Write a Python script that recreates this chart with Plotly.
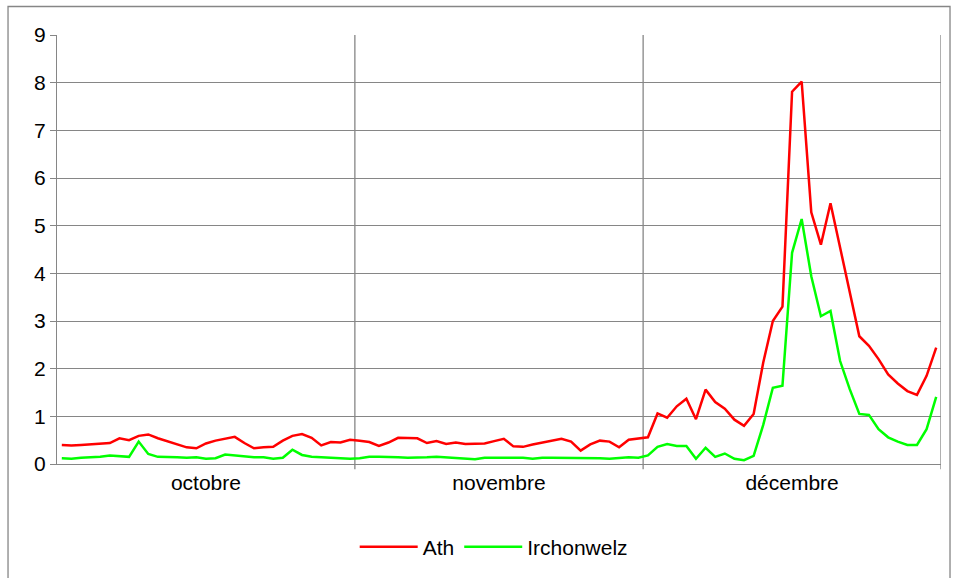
import plotly.graph_objects as go

months = ["octobre", "novembre", "décembre"]
month_days = [31, 30, 31]

ath_oct = [0.40, 0.39, 0.40, 0.41, 0.42, 0.44, 0.54, 0.50, 0.59, 0.62, 0.54, 0.48, 0.42, 0.35, 0.33,
           0.43, 0.49, 0.53, 0.57, 0.44, 0.33, 0.35, 0.36, 0.49, 0.59, 0.63, 0.55, 0.39, 0.46, 0.45, 0.51]
ath_nov = [0.49, 0.46, 0.38, 0.45, 0.55, 0.54, 0.54, 0.44, 0.48, 0.42, 0.45, 0.42, 0.43, 0.43, 0.48,
           0.53, 0.37, 0.36, 0.41, 0.45, 0.49, 0.53, 0.47, 0.28, 0.41, 0.49, 0.47, 0.35, 0.51, 0.54]
ath_dec = [0.56, 1.06, 0.97, 1.21, 1.37, 0.94, 1.56, 1.30, 1.16, 0.93, 0.80, 1.05, 2.13, 3.00, 3.30,
           7.81, 8.02, 5.28, 4.60, 5.47, 4.53, 3.59, 2.68, 2.48, 2.20, 1.88, 1.69, 1.53, 1.45, 1.85, 2.44]

irc_oct = [0.12, 0.11, 0.13, 0.14, 0.15, 0.18, 0.17, 0.15, 0.47, 0.21, 0.15, 0.15, 0.14, 0.13, 0.14,
           0.11, 0.12, 0.20, 0.18, 0.15, 0.14, 0.14, 0.11, 0.13, 0.30, 0.19, 0.15, 0.14, 0.13, 0.11, 0.11]
irc_nov = [0.12, 0.15, 0.15, 0.15, 0.14, 0.13, 0.13, 0.14, 0.15, 0.14, 0.13, 0.11, 0.10, 0.13, 0.13,
           0.14, 0.14, 0.13, 0.11, 0.13, 0.13, 0.13, 0.13, 0.13, 0.13, 0.12, 0.11, 0.13, 0.14, 0.13]
irc_dec = [0.18, 0.36, 0.42, 0.38, 0.38, 0.11, 0.34, 0.15, 0.22, 0.11, 0.08, 0.17, 0.82, 1.60, 1.64,
           4.43, 5.14, 3.94, 3.10, 3.21, 2.16, 1.57, 1.05, 1.03, 0.73, 0.56, 0.47, 0.40, 0.40, 0.73, 1.41]

ath = ath_oct + ath_nov + ath_dec
irc = irc_oct + irc_nov + irc_dec
x = list(range(len(ath)))

# month boundaries and centres on the day-index scale
bounds = [-0.5]
for d in month_days:
    bounds.append(bounds[-1] + d)
centres = [(bounds[i] + bounds[i + 1]) / 2 for i in range(len(months))]

GRID = "#868686"
FONT = "Liberation Sans, Arial, sans-serif"
FS = 21

fig = go.Figure()
fig.add_trace(go.Scatter(x=x, y=ath, mode="lines", name="Ath",
                         line=dict(color="#FF0000", width=2.5)))
fig.add_trace(go.Scatter(x=x, y=irc, mode="lines", name="Irchonwelz",
                         line=dict(color="#00FF00", width=2.5)))

for b in bounds[1:]:
    fig.add_shape(type="line", xref="x", yref="paper", x0=b, x1=b, y0=-0.012, y1=1,
                  line=dict(color=GRID, width=1.3), layer="below")

# outer chart border
fig.add_shape(type="rect", xref="paper", yref="paper",
              x0=-0.0554, x1=1.0102, y0=-0.30, y1=1.0664,
              line=dict(color=GRID, width=1.3), fillcolor="rgba(0,0,0,0)")

fig.update_layout(
    width=957, height=578,
    margin=dict(l=57, r=16, t=35, b=113),
    paper_bgcolor="white", plot_bgcolor="white",
    font=dict(family=FONT, size=FS, color="black"),
    showlegend=True,
    legend=dict(orientation="h", x=0.494, xanchor="center", y=-0.191, yanchor="middle",
                font=dict(size=FS), itemwidth=58, tracegroupgap=0),
    xaxis=dict(range=[bounds[0], bounds[-1]], tickmode="array", tickvals=centres,
               ticktext=months, showgrid=False, zeroline=False, ticks="",
               showline=True, linecolor=GRID, linewidth=1.3, tickfont=dict(size=FS)),
    yaxis=dict(range=[0, 9], dtick=1, tick0=0, showgrid=True, gridcolor=GRID, gridwidth=1.3,
               zeroline=False, showline=True, linecolor=GRID, linewidth=1.3,
               ticks="outside", ticklen=6, tickcolor=GRID, tickfont=dict(size=FS)),
)

fig.write_html("out.html", config={"displayModeBar": False},
               post_script="document.body.style.margin='0';document.body.style.overflow='hidden';")
